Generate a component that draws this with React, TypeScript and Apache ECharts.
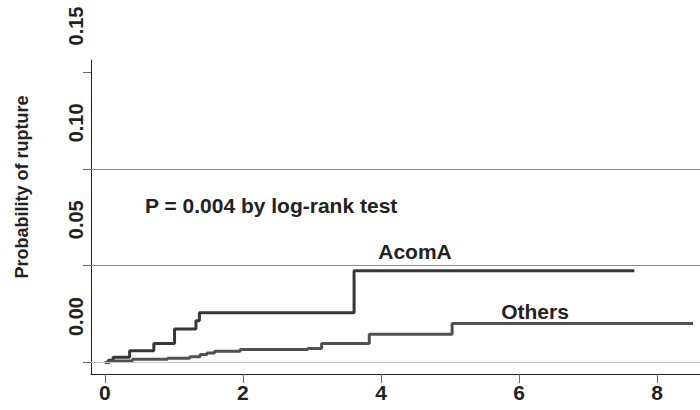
import React, { useEffect, useRef } from "react";
import * as echarts from "echarts";

// Kaplan-Meier style cumulative probability of rupture (time in years)
const acomAPoints: [number, number][] = [
  [0, 0], [0.05, 0.0012], [0.12, 0.0027], [0.36, 0.0061], [0.71, 0.0099],
  [1.01, 0.0173], [1.32, 0.0216], [1.37, 0.0257], [3.61, 0.0474], [7.67, 0.0474],
];
const othersPoints: [number, number][] = [
  [0, 0], [0.07, 0.0008], [0.12, 0.001], [0.4, 0.0017], [0.91, 0.0022],
  [1.23, 0.003], [1.38, 0.0042], [1.48, 0.0049], [1.59, 0.0059], [1.96, 0.0068],
  [2.94, 0.0073], [3.14, 0.0099], [3.83, 0.0146], [5.03, 0.0202], [8.52, 0.0202],
];
const xTickValues = [0, 2, 4, 6, 8];
const yTickValues = [0, 0.05, 0.1, 0.15];
const gridLineValues = [0, 0.05, 0.1];
const seriesNames = ["AcomA", "Others"];
const yTitle = "Probability of rupture";
const pValueText = "P = 0.004 by log-rank test";
const xExtent = [-0.2, 8.62];
const yExtent = [-0.0059, 0.1562];

const FONT = "'Liberation Sans', Arial, Helvetica, sans-serif";

export default function App() {
  const ref = useRef<HTMLDivElement>(null);
  useEffect(() => {
    if (!ref.current) return;
    const chart = echarts.init(ref.current, null, { renderer: "svg" });
    const axisColor = "#222";
    const tickColor = "#666";
    const option: any = {
      animation: false,
      backgroundColor: "#ffffff",
      grid: { left: 91, right: 0, top: 60, bottom: 36, containLabel: false, outerBoundsMode: "none" },
      xAxis: {
        type: "value",
        min: xExtent[0],
        max: xExtent[1],
        axisLine: { show: true, onZero: false, lineStyle: { color: axisColor, width: 1 } },
        axisTick: { show: true, customValues: xTickValues, length: 9, lineStyle: { color: tickColor, width: 1 } },
        axisLabel: {
          customValues: xTickValues,
          margin: 8,
          fontSize: 21,
          fontWeight: "bold",
          color: axisColor,
          fontFamily: FONT,
          formatter: (v: number) => String(Math.round(v)),
        },
        splitLine: { show: false },
      },
      yAxis: {
        type: "value",
        min: yExtent[0],
        max: yExtent[1],
        axisLine: { show: true, onZero: false, lineStyle: { color: axisColor, width: 1 } },
        axisTick: { show: true, customValues: yTickValues, length: 8, lineStyle: { color: tickColor, width: 1 } },
        axisLabel: {
          customValues: yTickValues,
          rotate: 90,
          margin: 5,
          padding: [0, 0, 0, 92],
          fontSize: 20,
          fontWeight: "bold",
          color: axisColor,
          fontFamily: FONT,
          formatter: (v: number) => v.toFixed(2),
        },
        splitLine: { show: false },
      },
      series: [
        {
          type: "line",
          name: "grid",
          data: [],
          silent: true,
          z: 1,
          markLine: {
            silent: true,
            symbol: "none",
            label: { show: false },
            data: gridLineValues.map((v) => ({
              yAxis: v,
              lineStyle: { color: v === 0 ? "#c4c4c4" : "#8c8c8c", width: 1, type: "solid" },
            })),
          },
        },
        {
          type: "line",
          name: seriesNames[0],
          data: acomAPoints,
          step: "end",
          showSymbol: false,
          z: 3,
          lineStyle: { color: "#363636", width: 3 },
        },
        {
          type: "line",
          name: seriesNames[1],
          data: othersPoints,
          step: "end",
          showSymbol: false,
          z: 3,
          lineStyle: { color: "#505050", width: 3 },
        },
      ],
      graphic: [
        {
          type: "text",
          x: 22,
          y: 187,
          rotation: Math.PI / 2,
          style: {
            text: yTitle,
            fontSize: 18,
            fontWeight: "bold",
            fontFamily: FONT,
            fill: axisColor,
            align: "center",
            verticalAlign: "middle",
          },
        },
        {
          type: "text",
          x: 145,
          y: 205,
          style: {
            text: pValueText,
            fontSize: 21,
            fontWeight: "bold",
            fontFamily: FONT,
            fill: axisColor,
            align: "left",
            verticalAlign: "middle",
          },
        },
        {
          type: "text",
          x: 415,
          y: 251,
          style: {
            text: seriesNames[0],
            fontSize: 21,
            fontWeight: "bold",
            fontFamily: FONT,
            fill: axisColor,
            align: "center",
            verticalAlign: "middle",
          },
        },
        {
          type: "text",
          x: 535,
          y: 311,
          style: {
            text: seriesNames[1],
            fontSize: 21,
            fontWeight: "bold",
            fontFamily: FONT,
            fill: axisColor,
            align: "center",
            verticalAlign: "middle",
          },
        },
      ],
    };
    chart.setOption(option);
    return () => chart.dispose();
  }, []);
  return (
    <div
      ref={ref}
      style={{ position: "fixed", left: 0, top: 0, width: 700, height: 410, background: "#fff" }}
    />
  );
}
